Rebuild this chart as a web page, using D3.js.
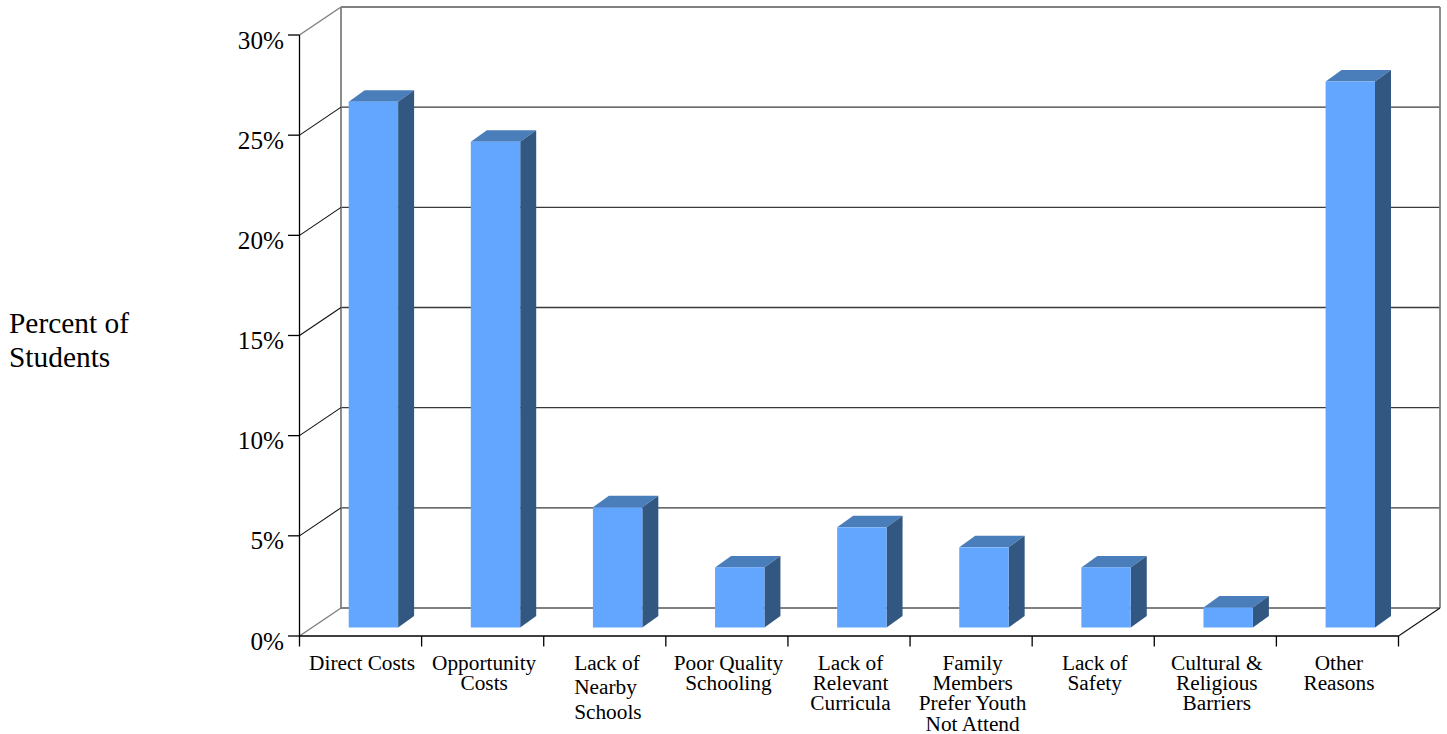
<!DOCTYPE html>
<html>
<head>
<meta charset="utf-8">
<script src="https://cdn.jsdelivr.net/npm/d3@7/dist/d3.min.js"></script>
<style>
html,body{margin:0;padding:0;background:#fff}
svg{display:block}
text{font-family:"Liberation Serif",serif;fill:#000}
</style>
</head>
<body>
<svg id="chart" width="1447" height="734"></svg>
<script>
const categories = [
  ["Direct Costs"],
  ["Opportunity","Costs"],
  ["Lack of","Nearby","Schools"],
  ["Poor Quality","Schooling"],
  ["Lack of","Relevant","Curricula"],
  ["Family","Members","Prefer Youth","Not Attend"],
  ["Lack of","Safety"],
  ["Cultural &","Religious","Barriers"],
  ["Other","Reasons"]
];
const percents = [26.25, 24.25, 6, 3, 5, 4, 3, 1, 27.25];
const yTicks = [0, 5, 10, 15, 20, 25, 30];
const titleLines = ["Percent of", "Students"];

const svg = d3.select("#chart");

// Front plane of the 3-D box, with the back wall pushed up and to the right.
const x = d3.scaleBand().domain(d3.range(categories.length)).range([299.5, 1398.5]).paddingInner(0).paddingOuter(0);
const y = d3.scaleLinear().domain([0, 30]).range([636, 35]);
const depth = {dx: 41.5, dy: -28};
const barDepth = {dx: 16, dy: -11.5};
const barLift = 8.5;
const barInset = 49.2;
const barW = 49.4;

// Back wall outline and horizontal gridlines
const backLeft = x.range()[0] + depth.dx, backRight = x.range()[1] + depth.dx;
const isEdge = d => d === 0 || d === 30;
svg.append("g").selectAll("line").data(yTicks).join("line")
  .attr("x1", backLeft).attr("x2", backRight)
  .attr("y1", d => y(d) + depth.dy).attr("y2", d => y(d) + depth.dy)
  .attr("stroke", d => isEdge(d) ? "#808080" : "#3a3a3a")
  .attr("stroke-width", d => isEdge(d) ? 1.8 : 1.3);
svg.append("g").selectAll("line").data([backLeft, backRight]).join("line")
  .attr("x1", d => d).attr("x2", d => d)
  .attr("y1", y(30) + depth.dy).attr("y2", y(0) + depth.dy)
  .attr("stroke", "#808080").attr("stroke-width", 1.8);

// Side wall diagonals running from the front axis to the back wall
svg.append("g").selectAll("line").data(yTicks).join("line")
  .attr("x1", x.range()[0]).attr("y1", d => y(d))
  .attr("x2", backLeft).attr("y2", d => y(d) + depth.dy)
  .attr("stroke", d => isEdge(d) ? "#808080" : "#111")
  .attr("stroke-width", d => isEdge(d) ? 1.5 : 1.1);
svg.append("line")
  .attr("x1", x.range()[1]).attr("y1", y(0))
  .attr("x2", backRight).attr("y2", y(0) + depth.dy)
  .attr("stroke", "#111").attr("stroke-width", 1.1);

// Bars: front, top and side faces
const bars = svg.append("g").selectAll("g").data(percents).join("g");
const barLeft = (d, i) => x(i) + barInset;
const barBase = y(0) - barLift;
const barTop = d => barBase - (y(0) - y(d));
bars.append("path").attr("fill", "#4a7ebb")
  .attr("d", (d, i) => {
    const l = barLeft(d, i), t = barTop(d);
    return `M${l},${t}L${l + barDepth.dx},${t + barDepth.dy}L${l + barW + barDepth.dx},${t + barDepth.dy}L${l + barW},${t}Z`;
  });
bars.append("path").attr("fill", "#325780")
  .attr("d", (d, i) => {
    const r = barLeft(d, i) + barW, t = barTop(d);
    return `M${r},${t}L${r + barDepth.dx},${t + barDepth.dy}L${r + barDepth.dx},${barBase + barDepth.dy}L${r},${barBase}Z`;
  });
bars.append("rect").attr("fill", "#62a6ff")
  .attr("x", barLeft).attr("y", barTop)
  .attr("width", barW).attr("height", d => barBase - barTop(d));

// Front axes
const axes = svg.append("g").attr("stroke", "#000").attr("stroke-width", 1.3);
axes.append("line").attr("x1", x.range()[0]).attr("x2", x.range()[0]).attr("y1", y(30)).attr("y2", y(0));
axes.append("line").attr("x1", x.range()[0]).attr("x2", x.range()[1]).attr("y1", y(0)).attr("y2", y(0));
axes.append("g").selectAll("line").data(yTicks).join("line")
  .attr("x1", x.range()[0] - 11.5).attr("x2", x.range()[0]).attr("y1", d => y(d)).attr("y2", d => y(d));
axes.append("g").selectAll("line").data(d3.range(categories.length + 1)).join("line")
  .attr("x1", i => x.range()[0] + i * x.step()).attr("x2", i => x.range()[0] + i * x.step())
  .attr("y1", y(0)).attr("y2", y(0) + 10.5);

// Tick labels
svg.append("g").selectAll("text").data(yTicks).join("text")
  .attr("x", 284).attr("y", d => y(d) + 13.5)
  .attr("text-anchor", "end").attr("font-size", 25.2)
  .text(d => d + "%");

// Category labels; the third one is set flush left with looser leading
const looseLabel = 2;
const catLabels = svg.append("g").selectAll("text").data(categories).join("text")
  .attr("text-anchor", (d, i) => i === looseLabel ? "start" : "middle")
  .attr("font-size", 21.3);
catLabels.selectAll("tspan").data((d, i) => d.map(line => ({line, i}))).join("tspan")
  .attr("x", d => d.i === looseLabel ? x(d.i) + 0.25 * x.step() - 0.1 : x(d.i) + x.step() / 2 + 1.5)
  .attr("y", (d, j) => 669.5 + j * (d.i === looseLabel ? 24.5 : 20.4))
  .text(d => d.line);

// Value axis title
svg.append("g").selectAll("text").data(titleLines).join("text")
  .attr("x", 9).attr("y", (d, i) => 333 + i * 34)
  .attr("font-size", 29.4)
  .text(d => d);
</script>
</body>
</html>
